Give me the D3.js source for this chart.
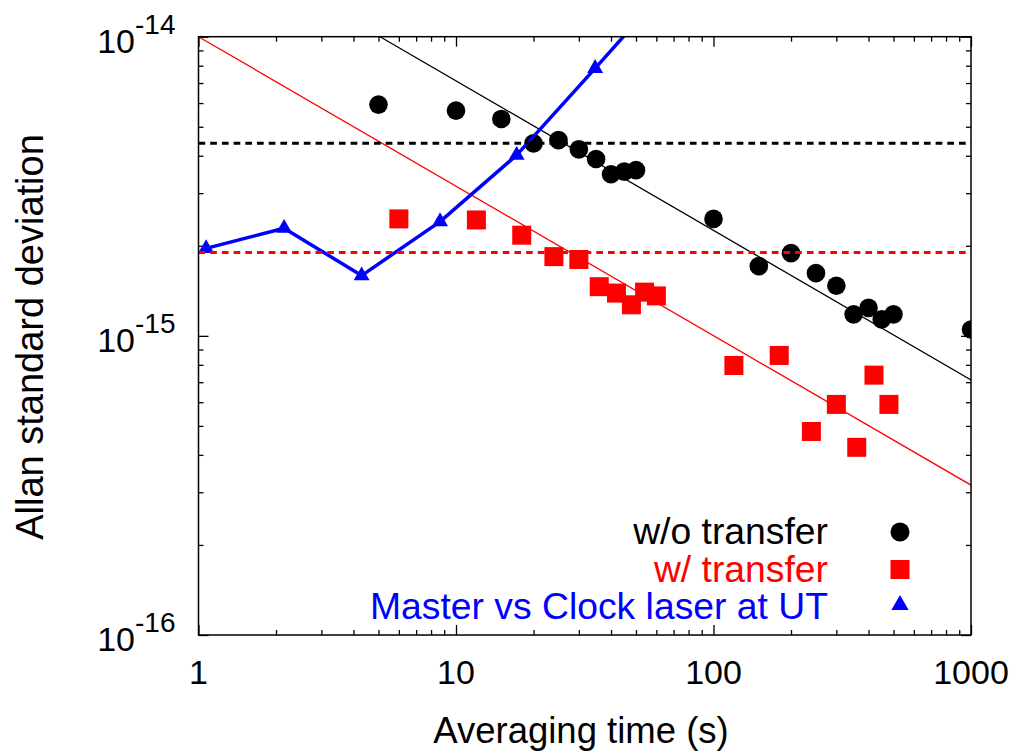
<!DOCTYPE html>
<html>
<head>
<meta charset="utf-8">
<script src="https://cdn.jsdelivr.net/npm/d3@7"></script>
<style>
  body { margin: 0; background: #fff; }
  text { font-family: "Liberation Sans", Arial, sans-serif; }
</style>
</head>
<body>
<div id="chart"></div>
<script>
// data
const woTau = [5, 10, 15, 20, 25, 30, 35, 40, 45, 50, 100, 150, 200, 250, 300, 350, 400, 450, 500, 1000];
const woSigma = [5.93e-15, 5.66e-15, 5.31e-15, 4.40e-15, 4.51e-15, 4.20e-15, 3.90e-15, 3.47e-15, 3.54e-15, 3.58e-15,
                 2.46e-15, 1.71e-15, 1.89e-15, 1.62e-15, 1.47e-15, 1.18e-15, 1.24e-15, 1.135e-15, 1.18e-15, 1.05e-15];

const wTau = [6, 12, 18, 24, 30, 36, 42, 48, 54, 60, 120, 180, 240, 300, 360, 420, 480];
const wSigma = [2.46e-15, 2.44e-15, 2.17e-15, 1.84e-15, 1.80e-15, 1.46e-15, 1.39e-15, 1.27e-15, 1.40e-15, 1.36e-15,
                7.96e-16, 8.6e-16, 4.79e-16, 5.9e-16, 4.24e-16, 7.39e-16, 5.9e-16];

const utTau = [1.07, 2.15, 4.30, 8.67, 17.2, 34.7, 69.4];
const utSigma = [1.96e-15, 2.29e-15, 1.59e-15, 2.41e-15, 4.02e-15, 7.84e-15, 1.53e-14];

// tau^-1/2 guide lines (end points) and flat dashed levels
const blackFit = [[5.07, 1e-14], [1000, 7.12e-16]];
const redFit = [[1, 1e-14], [1000, 3.17e-16]];
const blackLevel = 4.40e-15;
const redLevel = 1.90e-15;

const xMajor = [1, 10, 100, 1000];
const yMajor = [1e-16, 1e-15, 1e-14];
const yExp = ["-16", "-15", "-14"];

const legendLabels = ["w/o transfer", "w/ transfer", "Master vs Clock laser at UT"];
const legendColors = ["#000000", "#ff0000", "#0000ff"];

const width = 1017, height = 753;
const pLeft = 198.5, pRight = 971, pTop = 36.7, pBottom = 635;

const svg = d3.select("#chart").append("svg")
    .attr("width", width)
    .attr("height", height);

const x = d3.scaleLog().domain([1, 1000]).range([pLeft, pRight]);
const y = d3.scaleLog().domain([1e-16, 1e-14]).range([pBottom, pTop]);

const xMinor = x.ticks().filter(d => !xMajor.includes(d));
const yMinor = y.ticks().filter(d => !yMajor.some(m => Math.abs(m - d) / m < 1e-6));

// clip for anything that leaves the frame
svg.append("clipPath").attr("id", "plot-clip")
  .append("rect")
    .attr("x", pLeft).attr("y", pTop)
    .attr("width", pRight - pLeft).attr("height", pBottom - pTop);

// ticks, pointing inward on all four sides
function tickAxis(axis, vals, size, tx, ty) {
    const g = svg.append("g")
        .attr("transform", `translate(${tx},${ty})`)
        .call(axis.tickValues(vals).tickSize(size).tickSizeOuter(0).tickFormat(""));
    g.select(".domain").remove();
    g.selectAll("line").attr("stroke", "#000").attr("stroke-width", 1.3);
}
tickAxis(d3.axisBottom(x), xMajor, -10, 0, pBottom);
tickAxis(d3.axisBottom(x), xMinor, -5, 0, pBottom);
tickAxis(d3.axisTop(x), xMajor, -10, 0, pTop);
tickAxis(d3.axisTop(x), xMinor, -5, 0, pTop);
tickAxis(d3.axisLeft(y), yMajor, -10, pLeft, 0);
tickAxis(d3.axisLeft(y), yMinor, -5, pLeft, 0);
tickAxis(d3.axisRight(y), yMajor, -10, pRight, 0);
tickAxis(d3.axisRight(y), yMinor, -5, pRight, 0);

// x tick labels
svg.selectAll(".xlab")
    .data(xMajor)
    .enter().append("text")
    .attr("class", "xlab")
    .attr("x", d => x(d))
    .attr("y", pBottom + 49)
    .attr("text-anchor", "middle")
    .attr("font-size", 34)
    .text(d => d);

// y tick labels as 10^n
const ylab = svg.selectAll(".ylab")
    .data(yMajor)
    .enter().append("text")
    .attr("class", "ylab")
    .attr("x", pLeft - 23)
    .attr("y", d => y(d) + 16)
    .attr("text-anchor", "end")
    .attr("font-size", 34);
ylab.append("tspan").text("10");
ylab.append("tspan")
    .attr("dy", -19)
    .attr("font-size", 28)
    .text((d, i) => yExp[i]);

// axis titles
svg.append("text")
    .attr("x", 581)
    .attr("y", 743)
    .attr("text-anchor", "middle")
    .attr("font-size", 36.5)
    .text("Averaging time (s)");

svg.append("text")
    .attr("transform", "translate(43,337) rotate(-90)")
    .attr("text-anchor", "middle")
    .attr("font-size", 38)
    .text("Allan standard deviation");

const plot = svg.append("g").attr("clip-path", "url(#plot-clip)");
const line = d3.line().x(d => x(d[0])).y(d => y(d[1]));

// guide lines
plot.append("path").attr("d", line(blackFit))
    .attr("fill", "none").attr("stroke", "#000").attr("stroke-width", 1.3);
plot.append("path").attr("d", line(redFit))
    .attr("fill", "none").attr("stroke", "#ff0000").attr("stroke-width", 1.3);

// w/o transfer
plot.selectAll(".wo")
    .data(woTau.map((t, i) => [t, woSigma[i]]))
    .enter().append("circle")
    .attr("class", "wo")
    .attr("cx", d => x(d[0]))
    .attr("cy", d => y(d[1]))
    .attr("r", 9.3)
    .attr("fill", "#000");

// w/ transfer
const sq = 19;
plot.selectAll(".w")
    .data(wTau.map((t, i) => [t, wSigma[i]]))
    .enter().append("rect")
    .attr("class", "w")
    .attr("x", d => x(d[0]) - sq / 2)
    .attr("y", d => y(d[1]) - sq / 2)
    .attr("width", sq)
    .attr("height", sq)
    .attr("fill", "#ff0000");

// Master vs Clock laser at UT
const utData = utTau.map((t, i) => [t, utSigma[i]]);
plot.append("path").attr("d", line(utData))
    .attr("fill", "none").attr("stroke", "#0000ff").attr("stroke-width", 3.5)
    .attr("stroke-linejoin", "round");
const tri = d3.symbol().type(d3.symbolTriangle).size(110);
plot.selectAll(".ut")
    .data(utData)
    .enter().append("path")
    .attr("class", "ut")
    .attr("transform", d => `translate(${x(d[0])},${y(d[1])})`)
    .attr("d", tri)
    .attr("fill", "#0000ff");

// dashed levels
plot.append("line")
    .attr("x1", pLeft).attr("x2", pRight)
    .attr("y1", y(blackLevel)).attr("y2", y(blackLevel))
    .attr("stroke", "#000").attr("stroke-width", 3).attr("stroke-dasharray", "6.7,5");
plot.append("line")
    .attr("x1", pLeft).attr("x2", pRight)
    .attr("y1", y(redLevel)).attr("y2", y(redLevel))
    .attr("stroke", "#ff0000").attr("stroke-width", 3).attr("stroke-dasharray", "6.7,5");

// frame
svg.append("rect")
    .attr("x", pLeft).attr("y", pTop)
    .attr("width", pRight - pLeft).attr("height", pBottom - pTop)
    .attr("fill", "none").attr("stroke", "#000").attr("stroke-width", 1.5);

// legend
const legend = svg.selectAll(".legend")
    .data(legendLabels)
    .enter().append("g")
    .attr("class", "legend")
    .attr("transform", (d, i) => `translate(0,${544 + i * 37.5})`);

legend.append("text")
    .attr("x", 828)
    .attr("text-anchor", "end")
    .attr("font-size", 37.3)
    .attr("fill", (d, i) => legendColors[i])
    .text(d => d);

legend.filter((d, i) => i === 0).append("circle")
    .attr("cx", 900).attr("cy", -12).attr("r", 9.5).attr("fill", "#000");
legend.filter((d, i) => i === 1).append("rect")
    .attr("x", 900 - 9.5).attr("y", -21.5).attr("width", 19).attr("height", 19).attr("fill", "#ff0000");
legend.filter((d, i) => i === 2).append("path")
    .attr("transform", "translate(900,-14)")
    .attr("d", d3.symbol().type(d3.symbolTriangle).size(130))
    .attr("fill", "#0000ff");
</script>
</body>
</html>
